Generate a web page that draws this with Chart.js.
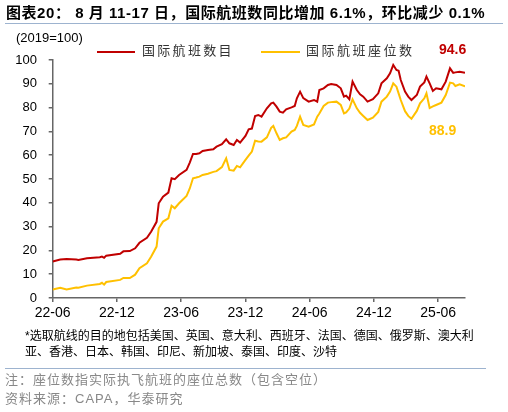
<!DOCTYPE html>
<html>
<head>
<meta charset="utf-8">
<script src="https://cdn.jsdelivr.net/npm/chart.js@4.4.0/dist/chart.umd.min.js"></script>
<style>
  html,body{margin:0;padding:0;background:#fff;}
  body{width:508px;height:412px;position:relative;overflow:hidden;font-family:"Liberation Sans","Noto Sans CJK SC",sans-serif;}
  #c{position:absolute;left:0;top:0;}
  .t{position:absolute;white-space:nowrap;line-height:1;}
  .hr{position:absolute;height:0;border-top:1.5px solid #9DB3CF;}
  .leg{position:absolute;height:2px;}
</style>
</head>
<body>
<canvas id="c" width="508" height="412"></canvas>
<div class="t" id="title" style="left:6px;top:5px;font-size:15px;letter-spacing:0.55px;font-weight:bold;color:#000;">图表20： 8 月 11-17 日，国际航班数同比增加 6.1%，环比减少 0.1%</div>
<div class="hr" style="left:5px;top:22.5px;width:498px;"></div>
<div class="t" style="left:16px;top:31px;font-size:13px;color:#000;">(2019=100)</div>
<div class="leg" style="left:97px;top:50.5px;width:38px;background:#C00000;"></div>
<div class="t" style="left:142px;top:44px;font-size:13px;letter-spacing:2.3px;color:#333;">国际航班数目</div>
<div class="leg" style="left:261px;top:50.5px;width:39px;background:#FFC000;"></div>
<div class="t" style="left:306px;top:44px;font-size:13px;letter-spacing:2.5px;color:#333;">国际航班座位数</div>
<div class="t" style="left:439px;top:42px;font-size:14px;font-weight:bold;color:#C00000;">94.6</div>
<div class="t" style="left:429px;top:123px;font-size:14px;font-weight:bold;color:#FFC000;">88.9</div>
<div class="t" style="left:25px;top:330px;font-size:12px;color:#000;">*选取航线的目的地包括美国、英国、意大利、西班牙、法国、德国、俄罗斯、澳大利</div>
<div class="t" style="left:25px;top:346px;font-size:12px;color:#000;">亚、香港、日本、韩国、印尼、新加坡、泰国、印度、沙特</div>
<div class="hr" style="left:5px;top:367.5px;width:481px;"></div>
<div class="t" style="left:5px;top:373px;font-size:13px;letter-spacing:1px;color:#888;">注：座位数指实际执飞航班的座位总数（包含空位）</div>
<div class="t" style="left:5px;top:392px;font-size:13px;letter-spacing:1px;color:#888;">资料来源：CAPA，华泰研究</div>
<script>
const months = [0,0.7,1.3,2.2,2.4,3.2,4.4,4.6,4.8,5.0,6.3,6.6,7.2,7.7,8.1,8.8,9.2,9.7,9.9,10.3,10.8,11.1,11.4,11.8,12.5,12.8,13.1,13.4,13.7,14.0,14.5,15.0,15.3,15.8,16.2,16.5,16.9,17.2,17.5,18.0,18.3,18.6,18.9,19.2,19.5,20.0,20.4,20.6,20.9,21.2,21.5,21.8,22.3,22.6,22.8,23.1,23.4,23.9,24.4,24.7,24.9,25.3,25.7,26.0,26.5,26.9,27.2,27.4,27.7,28.0,28.4,28.7,29.0,29.4,29.9,30.4,30.7,31.2,31.5,31.8,32.1,32.3,32.5,32.9,33.2,33.5,34.0,34.3,34.7,34.9,35.2,35.5,35.8,36.3,36.7,37.1,37.4,37.6,38.0,38.5];
const flightIndex = [15.3,16.2,16.4,16.2,16.0,16.7,17.1,17.4,16.9,17.8,18.6,19.6,19.7,20.9,23.2,25.3,27.9,32.0,39.8,42.6,44.3,50.3,49.9,51.7,53.8,56.9,60.5,60.5,60.8,61.8,62.2,62.5,63.6,64.6,66.7,65.0,64.3,66.4,65.3,68.1,70.9,71.2,76.5,76.9,76.2,79.7,81.8,82.1,80.4,78.3,77.9,79.3,80.1,80.7,83.9,86.7,84.0,82.5,83.2,82.5,87.4,88.1,89.5,89.9,89.5,88.1,84.6,85.0,83.5,90.9,87.4,85.6,84.6,82.5,83.5,86.0,90.2,92.3,94.4,97.9,95.8,95.5,91.6,86.7,84.6,83.2,85.3,88.8,90.6,93.0,90.2,87.0,88.1,87.7,90.9,96.5,94.6,94.8,95.1,94.6];
const seatIndex = [3.6,4.3,3.6,4.4,4.3,5.2,5.9,6.4,5.6,6.7,7.6,8.4,8.4,9.8,12.5,14.6,17.4,21.6,29.3,32.1,33.5,38.8,37.7,39.8,42.9,46.0,50.3,50.6,51.0,51.7,52.2,53.0,53.3,55.0,58.7,53.8,53.5,55.5,54.9,58.0,59.8,61.5,66.1,65.8,65.7,67.5,71.5,72.3,69.2,66.4,67.1,67.5,69.9,70.6,72.3,76.2,72.7,72.0,72.9,76.2,77.5,80.7,82.1,82.3,82.5,81.1,77.6,78.0,79.6,83.5,79.7,77.8,76.5,74.8,75.8,78.2,82.5,84.6,86.7,90.2,88.8,86.0,83.2,78.5,76.5,75.3,78.6,81.8,83.9,86.0,79.8,80.5,81.1,82.1,85.3,90.5,90.2,89.1,89.8,88.9];
const tickLabels = ['22-06','22-12','23-06','23-12','24-06','24-12','25-06'];
const tickMonths = [0,6,12,18,24,30,36];
const seriesNames = ['国际航班数目','国际航班座位数'];

const toXY = arr => months.map((m,i)=>({x:m,y:arr[i]}));
const axisColor = '#666';

new Chart(document.getElementById('c'), {
  type: 'line',
  data: {
    datasets: [
      {label: seriesNames[0], data: toXY(flightIndex), borderColor:'#C00000', borderWidth:2, pointRadius:0, tension:0},
      {label: seriesNames[1], data: toXY(seatIndex), borderColor:'#FFC000', borderWidth:2, pointRadius:0, tension:0}
    ]
  },
  options: {
    responsive:false, animation:false, devicePixelRatio: 1,
    layout:{padding:{left:0,right:43,top:60,bottom:0}},
    plugins:{legend:{display:false}, tooltip:{enabled:false}},
    scales:{
      x:{
        type:'linear', min:0, max:38.5,
        afterBuildTicks: s => { s.ticks = tickMonths.map(v=>({value:v})); },
        afterFit: s => { s.height = 114; },
        border:{display:true,color:axisColor,width:1.5},
        grid:{display:true,drawOnChartArea:false,drawTicks:true,tickLength:4,color:axisColor,tickColor:axisColor,lineWidth:1.5},
        ticks:{autoSkip:false,maxRotation:0,padding:3,color:'#000',font:{family:'Liberation Sans',size:14},
          callback:(v)=>{const i=tickMonths.indexOf(v);return i>=0?tickLabels[i]:'';}}
      },
      y:{
        min:0,max:100,
        afterFit: s => { s.width = 52.7; },
        border:{display:true,color:axisColor,width:1.5},
        grid:{display:true,drawOnChartArea:false,drawTicks:true,tickLength:4,color:axisColor,tickColor:axisColor,lineWidth:1.5},
        ticks:{stepSize:10,padding:11.7,color:'#000',font:{family:'Liberation Sans',size:13}}
      }
    }
  }
});
</script>
</body>
</html>
